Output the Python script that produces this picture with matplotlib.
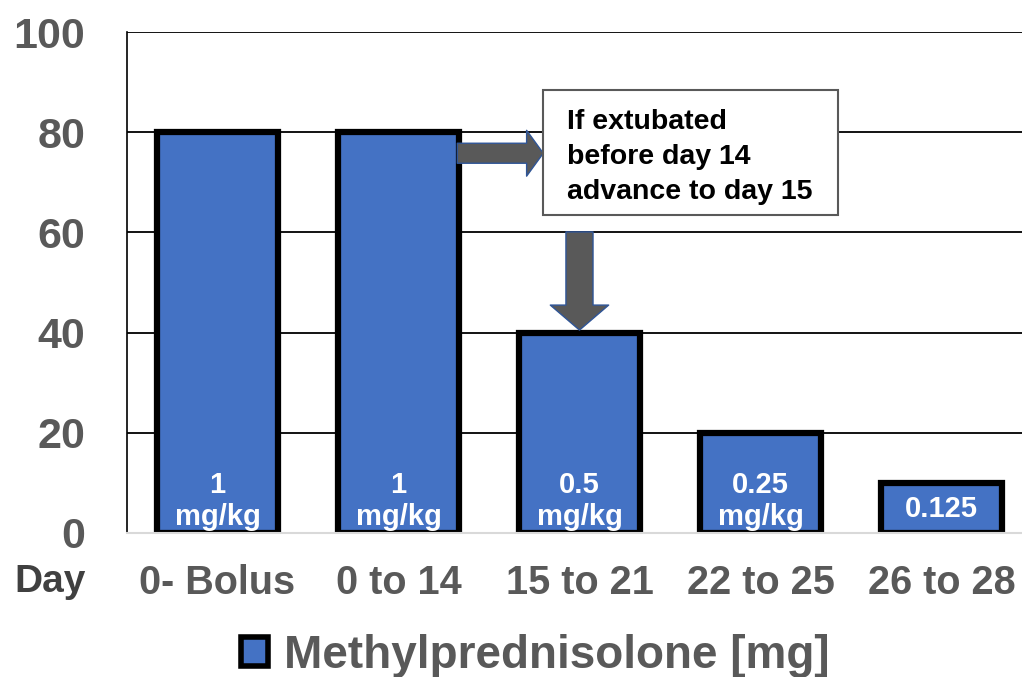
import matplotlib
matplotlib.use("Agg")
import matplotlib.pyplot as plt
from matplotlib.patches import Rectangle, FancyArrowPatch, Patch

plt.rcParams['font.family'] = ['Liberation Sans', 'DejaVu Sans']
plt.rcParams['font.weight'] = 'bold'

days = ["0- Bolus", "0 to 14", "15 to 21", "22 to 25", "26 to 28"]
dose_mg = [80, 80, 40, 20, 10]
dose_labels = ["1\nmg/kg", "1\nmg/kg", "0.5\nmg/kg", "0.25\nmg/kg", "0.125"]
y_ticks = [0, 20, 40, 60, 80, 100]
series_name = "Methylprednisolone [mg]"
note = "If extubated\nbefore day 14\nadvance to day 15"

BLUE = "#4472C4"
GRAY = "#595959"

fig = plt.figure(figsize=(10.22, 6.77), dpi=100)
ax = fig.add_axes([127 / 1022, 1 - 533 / 677, 1 - 127 / 1022, (533 - 32) / 677])

x = list(range(len(days)))
bar_w = 0.67
ax.bar(x, dose_mg, width=bar_w, color=BLUE, edgecolor="black", linewidth=4.5, zorder=3)

ax.set_ylim(0, 100)
ax.set_xlim(-0.5, 4.445)
ax.set_yticks(y_ticks)
ax.set_yticklabels([str(t) for t in y_ticks], fontsize=31, color=GRAY, fontweight='bold')
ax.set_xticks(x)
ax.set_xticklabels(days, fontsize=28.5, color=GRAY, fontweight='bold')
ax.tick_params(axis='y', length=0, pad=30)
ax.tick_params(axis='x', length=0, pad=22)
ax.grid(axis='y', color='black', linewidth=1.3, zorder=0)
ax.set_axisbelow(True)
for s in ("top", "right"):
    ax.spines[s].set_visible(False)
ax.spines["left"].set_color("black")
ax.spines["left"].set_linewidth(1.2)
ax.spines["bottom"].set_color("#D9D9D9")
ax.spines["bottom"].set_linewidth(1.5)
ax.spines["bottom"].set_zorder(5)

# dose labels inside the bars
for xi, v, lab in zip(x, dose_mg, dose_labels):
    yc = 6.4 if "\n" in lab else 4.8
    ax.text(xi, yc, lab, ha='center', va='center', color='white', fontsize=21,
            fontweight='bold', linespacing=1.2, zorder=4, clip_on=True)

# note box
ax.add_patch(Rectangle((1.798, 63.5), 3.428 - 1.798, 88.4 - 63.5, facecolor='white',
                       edgecolor=GRAY, linewidth=1.5, zorder=6, clip_on=False))
ax.text(1.93, 75.0, note, ha='left', va='center', fontsize=20.5, fontweight='bold',
        color='black', linespacing=1.45, zorder=7)

# arrows
right_arrow = FancyArrowPatch((1 + bar_w / 2 - 0.01, 75.8), (1.80, 75.8),
                              arrowstyle="simple,head_width=33,head_length=12,tail_width=14.4",
                              mutation_scale=1, shrinkA=0, shrinkB=0,
                              facecolor=GRAY, edgecolor="#2F5597", linewidth=1, zorder=5)
ax.add_patch(right_arrow)
down_arrow = FancyArrowPatch((2.0, 60.1), (2.0, 40.5),
                             arrowstyle="simple,head_width=42,head_length=18,tail_width=19.5",
                             mutation_scale=1, shrinkA=0, shrinkB=0,
                             facecolor=GRAY, edgecolor="#2F5597", linewidth=1, zorder=5)
ax.add_patch(down_arrow)

fig.text(50 / 1022, 1 - 582 / 677, "Day", ha='center', va='center', fontsize=28,
         fontweight='bold', color="#404040")

handle = Patch(facecolor=BLUE, edgecolor='black', linewidth=4)
leg = fig.legend([handle], [series_name], loc='center', bbox_to_anchor=(0.524, 1 - 656 / 677),
                 frameon=False, handlelength=0.6, handleheight=0.6,
                 handletextpad=0.35, prop={'weight': 'bold', 'size': 33})
for t in leg.get_texts():
    t.set_color(GRAY)

fig.savefig("out.png", dpi=100)
